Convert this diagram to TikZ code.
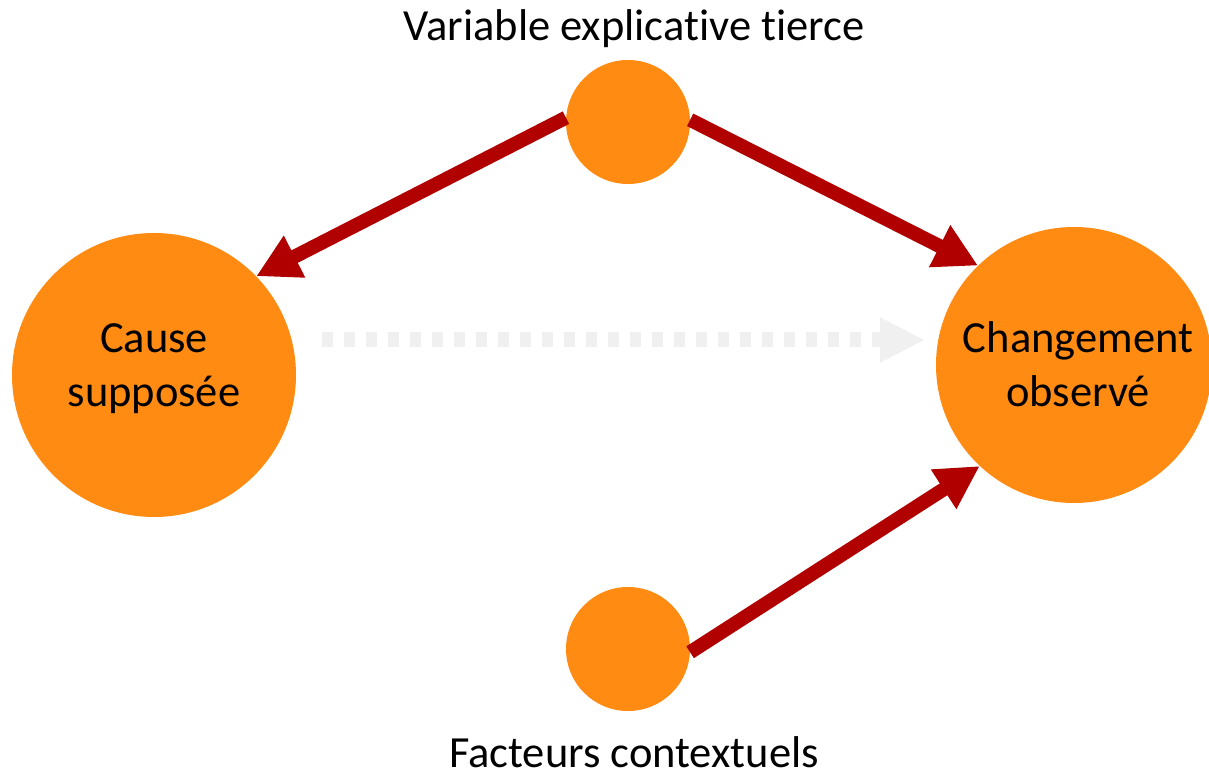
\documentclass[tikz,border=0pt]{standalone}
\usepackage{fontspec}
\setmainfont{Carlito}[Ligatures=NoCommon]
\usetikzlibrary{arrows.meta}
\definecolor{orng}{RGB}{255,139,18}
\definecolor{dred}{RGB}{176,0,0}
\definecolor{lgray}{RGB}{240,240,240}
\begin{document}
\begin{tikzpicture}[x=1pt,y=1pt,
  ball/.style={circle,fill=orng,draw=none,inner sep=0pt},
  lbl/.style={font=\fontsize{44.5}{54}\selectfont,text=black,inner sep=0pt},
  redarrow/.style={draw=dred,line width=14pt,-{Triangle[length=43pt,width=44pt]}},
  grayarrow/.style={draw=lgray,line width=15pt,dash pattern=on 11pt off 11pt,-{Triangle[length=45pt,width=42pt]}}
]
\useasboundingbox (0,0) rectangle (1209,776);
\node[ball,minimum size=124pt] (top) at (628,654) {};
\node[ball,minimum size=124pt] (bot) at (628,127) {};
\node[ball,minimum size=284pt] (cause) at (154,401) {};
\node[ball,minimum size=276pt] (chg) at (1074,411) {};
\node[lbl,anchor=base] (ttop) at (634,735) {Variable explicative tierce};
\node[lbl,anchor=base] (tbot) at (634,9) {Facteurs contextuels};
\node[lbl,align=center] (tcause) at (154,407) {Cause\\supposée};
\node[lbl,align=center] (tchg) at (1078,412) {Changement\\observé};
\coordinate (gs) at (322,436);
\coordinate (ge) at (925,436);
\draw[grayarrow] (gs) -- (ge);
\draw[redarrow] (top.176) -- (cause.44);
\draw[redarrow] (top.2) -- (chg.134);
\draw[redarrow] (bot.-3) -- (chg.227);
\end{tikzpicture}
\end{document}
